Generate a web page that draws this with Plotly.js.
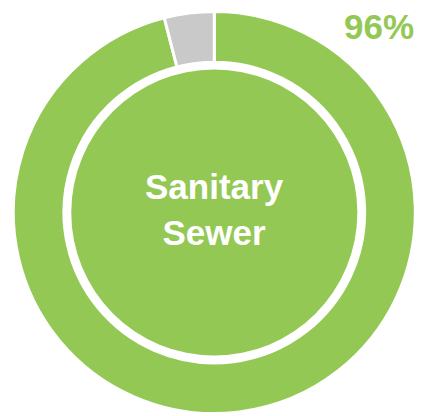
<!DOCTYPE html>
<html>
<head>
<meta charset="utf-8">
<script src="https://cdn.plot.ly/plotly-3.0.1.min.js"></script>
<style>html,body{margin:0;padding:0;background:#fff;}#chart{width:421px;height:416px;}</style>
</head>
<body>
<div id="chart"></div>
<script>
var categories = ["Sanitary Sewer", "Other"];
var values = [96, 4];
var colors = ["#94C855", "#C9C9C9"];
var centerLabel = "Sanitary<br>Sewer";
var percentLabel = "96%";

var W = 421, H = 416;
function dom(cx, cy, r) {
  return {
    x: [(cx - r) / W, (cx + r) / W],
    y: [(H - cy - r) / H, (H - cy + r) / H]
  };
}

var outer = {
  type: "pie",
  values: values,
  labels: categories,
  sort: false,
  direction: "clockwise",
  rotation: 0,
  hole: 0.748,
  marker: {colors: colors, line: {color: "#ffffff", width: 3}},
  textinfo: "none",
  hoverinfo: "skip",
  showlegend: false,
  domain: dom(214.3, 212.5, 201)
};

var inner = {
  type: "pie",
  values: [values[0]],
  labels: [categories[0]],
  marker: {colors: [colors[0]], line: {width: 0}},
  textinfo: "none",
  hoverinfo: "skip",
  showlegend: false,
  domain: dom(214.3, 212.5, 143)
};

var layout = {
  width: W, height: H,
  margin: {l: 0, r: 0, t: 0, b: 0},
  paper_bgcolor: "#ffffff",
  showlegend: false,
  annotations: [
    {
      text: "<b>" + centerLabel + "</b>",
      x: 214.3 / W, y: (H - 209) / H, xref: "paper", yref: "paper",
      xanchor: "center", yanchor: "middle", showarrow: false,
      font: {family: "Liberation Sans, Arial, sans-serif", size: 35, color: "#ffffff"}
    },
    {
      text: "<b>" + percentLabel + "</b>",
      x: 416 / W, y: (H - 26) / H, xref: "paper", yref: "paper",
      xanchor: "right", yanchor: "middle", showarrow: false,
      font: {family: "Liberation Sans, Arial, sans-serif", size: 35, color: colors[0]}
    }
  ]
};

Plotly.newPlot("chart", [outer, inner], layout, {displayModeBar: false, staticPlot: true});
</script>
</body>
</html>
